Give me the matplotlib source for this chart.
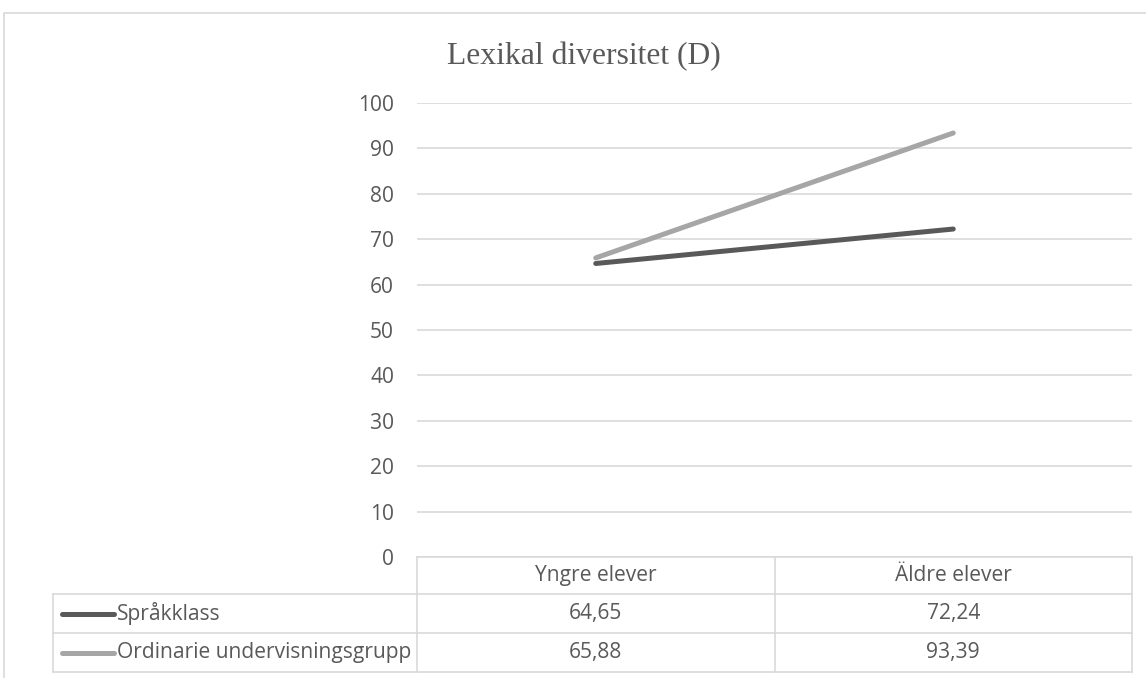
import matplotlib.pyplot as plt
from matplotlib.transforms import blended_transform_factory
from matplotlib.patches import Rectangle

categories = ["Yngre elever", "Äldre elever"]
series_names = ["Språkklass", "Ordinarie undervisningsgrupp"]
sprakklass = [64.65, 72.24]
ordinarie = [65.88, 93.39]
series_colors = ["#595959", "#A6A6A6"]

plt.rcParams['font.family'] = ['Open Sans', 'DejaVu Sans']
W, H = 1146, 678
fig = plt.figure(figsize=(W / 100, H / 100), dpi=100)

def px(x0, y0, x1, y1):
    # pixel box (top-left origin) -> figure fraction rect
    return [x0 / W, 1 - y1 / H, (x1 - x0) / W, (y1 - y0) / H]

ax = fig.add_axes(px(417, 103, 1132, 557))
grid_c = "#D9D9D9"
text_c = "#595959"
fs = 15.1

# outer chart frame
fig.patches.append(Rectangle((4 / W, -0.1), 1.2, 1 - 12.5 / H + 0.1, transform=fig.transFigure,
                             fill=False, edgecolor=grid_c, linewidth=1.2))

x = range(len(categories))
for vals, c in zip([sprakklass, ordinarie], series_colors):
    ax.plot(x, vals, color=c, linewidth=3.6, solid_capstyle='round', zorder=3)

ax.set_xlim(-0.5, 1.5)
ax.set_ylim(0, 100)
ax.set_yticks(range(0, 101, 10))
ax.yaxis.grid(True, color=grid_c, linewidth=1.2)
ax.set_axisbelow(True)
ax.tick_params(axis='y', length=0, pad=16.5, labelsize=fs, labelcolor=text_c)
ax.set_xticks([])
for s in ax.spines.values():
    s.set_visible(False)

fig.text(584 / W, 1 - 57 / H, "Lexikal diversitet (D)", family='Liberation Serif',
         fontsize=22.8, color=text_c, ha='center', va='center')

# data table under the axes
tr = blended_transform_factory(fig.transFigure, fig.transFigure)
rows_y = [557, 594, 633, 672]
col_x = [53, 417, 774.5, 1132]

def hline(x0, x1, y):
    fig.add_artist(plt.Line2D([x0 / W, x1 / W], [1 - y / H, 1 - y / H], transform=tr,
                              color=grid_c, linewidth=1.2))

def vline(xp, y0, y1):
    fig.add_artist(plt.Line2D([xp / W, xp / W], [1 - y0 / H, 1 - y1 / H], transform=tr,
                              color=grid_c, linewidth=1.2))

hline(417, 1132, rows_y[0])
for yy in rows_y[1:]:
    hline(53, 1132, yy)
vline(53, rows_y[1], rows_y[3])
for xp in col_x[1:]:
    vline(xp, rows_y[0], rows_y[3])

for i, cat in enumerate(categories):
    cx = (col_x[i + 1] + col_x[i + 2]) / 2
    fig.text(cx / W, 1 - (rows_y[0] + rows_y[1]) / 2 / H, cat, ha='center', va='center',
             fontsize=fs, color=text_c)

for r, (name, vals, c) in enumerate(zip(series_names, [sprakklass, ordinarie], series_colors)):
    yc = 1 - (rows_y[r + 1] + rows_y[r + 2]) / 2 / H
    fig.add_artist(plt.Line2D([62 / W, 114 / W], [yc, yc], transform=tr, color=c,
                              linewidth=3.6, solid_capstyle='round'))
    fig.text(117 / W, yc, name, ha='left', va='center', fontsize=fs, color=text_c)
    for i, v in enumerate(vals):
        cx = (col_x[i + 1] + col_x[i + 2]) / 2
        fig.text(cx / W, yc, f"{v:.2f}".replace(".", ","), ha='center', va='center',
                 fontsize=fs, color=text_c)

fig.savefig("out.png", dpi=100)
